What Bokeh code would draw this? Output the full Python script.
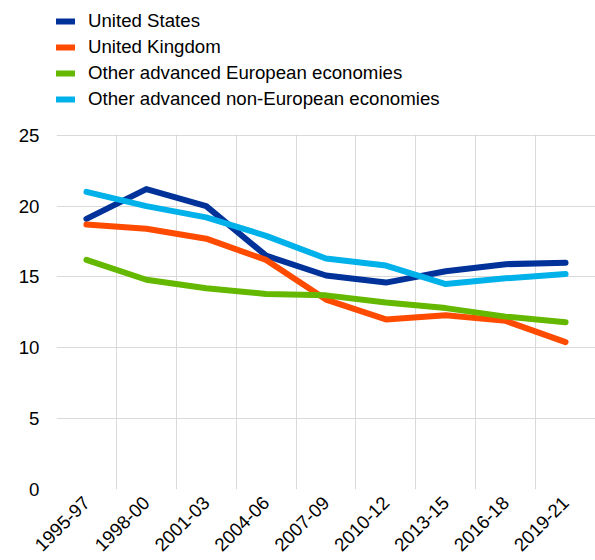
from bokeh.plotting import figure
from bokeh.models import FixedTicker, Legend, LegendItem, Range1d, BoxAnnotation
from bokeh.embed import file_html
from bokeh.resources import INLINE

periods = ["1995-97", "1998-00", "2001-03", "2004-06", "2007-09",
           "2010-12", "2013-15", "2016-18", "2019-21"]
united_states = [19.1, 21.2, 20.0, 16.5, 15.1, 14.6, 15.4, 15.9, 16.0]
united_kingdom = [18.7, 18.4, 17.7, 16.2, 13.4, 12.0, 12.3, 11.9, 10.4]
other_european = [16.2, 14.8, 14.2, 13.8, 13.7, 13.2, 12.8, 12.2, 11.8]
other_non_european = [21.0, 20.0, 19.2, 17.9, 16.3, 15.8, 14.5, 14.9, 15.2]
y_ticks = [0, 5, 10, 15, 20, 25]

series_names = ["United States", "United Kingdom",
                "Other advanced European economies",
                "Other advanced non-European economies"]
series_values = [united_states, united_kingdom, other_european, other_non_european]
series_colors = ["#003299", "#FF4B00", "#65B800", "#00B1EA"]

FONT = "Liberation Sans"
FS = "14pt"

W, H = 595, 560
LEFT, BOTTOM = 56, 70
PLOT_TOP_PX = 135           # pixel row of the top tick (25)
frame_h = H - BOTTOM        # frame spans the whole height above the x axis
y_top = y_ticks[-1] * frame_h / (frame_h - PLOT_TOP_PX)

p = figure(width=W, height=H, output_backend="svg", toolbar_location=None,
           title=None,
           x_range=Range1d(0, len(periods)), y_range=Range1d(0, y_top),
           min_border_left=LEFT, min_border_right=0, min_border_top=0,
           min_border_bottom=BOTTOM)
p.outline_line_color = None
p.background_fill_color = "white"

x_pos = [i + 0.5 for i in range(len(periods))]

# axes
p.xaxis.ticker = FixedTicker(ticks=x_pos)
p.xaxis.major_label_overrides = {x: lab for x, lab in zip(x_pos, periods)}
p.xaxis.major_label_orientation = 0.785398
p.yaxis.ticker = FixedTicker(ticks=y_ticks)
for ax in (p.xaxis[0], p.yaxis[0]):
    ax.axis_line_color = None
    ax.major_tick_line_color = None
    ax.minor_tick_line_color = None
    ax.major_tick_out = 0
    ax.minor_tick_out = 0
    ax.major_label_text_font = FONT
    ax.major_label_text_font_size = FS
    ax.major_label_text_color = "#000000"
p.yaxis.major_label_standoff = 17
p.xaxis.major_label_standoff = 10

p.xgrid.ticker = FixedTicker(ticks=list(range(len(periods))))
p.ygrid.ticker = FixedTicker(ticks=y_ticks)
p.xgrid.grid_line_color = "#d9d9d9"
p.ygrid.grid_line_color = "#d9d9d9"
p.xgrid.grid_line_width = 1
p.ygrid.grid_line_width = 1

# white mask hiding the vertical grid lines above the top tick (legend area)
mask = BoxAnnotation(top=0, bottom=PLOT_TOP_PX - 1,
                     top_units="canvas", bottom_units="canvas",
                     fill_color="white", fill_alpha=1.0, line_color=None,
                     level="underlay")
p.add_layout(mask)

items = []
for name, vals, col in zip(series_names, series_values, series_colors):
    r = p.line(x_pos, vals, line_color=col, line_width=6,
               line_cap="round", line_join="round")
    items.append(LegendItem(label=name, renderers=[r]))

legend_bottom_px = 111
legend = Legend(items=items, location=(0, frame_h - legend_bottom_px),
                orientation="vertical",
                glyph_width=19, glyph_height=20, label_height=20,
                spacing=4, label_standoff=13, padding=0, margin=0,
                border_line_color=None, background_fill_alpha=0,
                label_text_font=FONT, label_text_font_size=FS,
                label_text_color="#000000")
p.add_layout(legend, "center")

open("out.html", "w").write(file_html(p, INLINE))
